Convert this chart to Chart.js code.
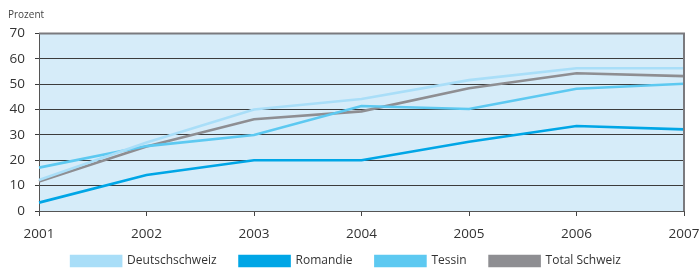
<!DOCTYPE html>
<html>
<head>
<meta charset="utf-8">
<script src="https://cdn.jsdelivr.net/npm/chart.js@4"></script>
<style>
  html, body { margin: 0; padding: 0; background: #fff; }
  #wrap { width: 699px; height: 268px; }
</style>
</head>
<body>
<div id="wrap"><canvas id="chart" width="699" height="268"></canvas></div>
<script>
const years = ['2001', '2002', '2003', '2004', '2005', '2006', '2007'];
const deutschschweiz = [12.2, 27, 40, 44.2, 51.6, 56.3, 56.3];
const romandie = [3.3, 14.2, 20, 20, 27.3, 33.5, 32.2];
const tessin = [17.1, 25.6, 30, 41.4, 40.2, 48.2, 50.2];
const totalSchweiz = [11.6, 25.4, 36.2, 39.3, 48.4, 54.3, 53.2];

const FONT = "'Open Sans', 'Noto Sans', sans-serif";

// light blue plot background + grey frame
const plotBg = {
    id: 'plotBg',
    afterLayout(chart) {
        // let the year labels run down into the legend band without being clipped
        chart.scales.x.bottom = chart.height;
    },
    beforeDraw(chart) {
        const { ctx, chartArea: a } = chart;
        ctx.save();
        ctx.fillStyle = '#d6ecf9';
        ctx.fillRect(a.left, a.top, a.right - a.left, a.bottom - a.top);
        ctx.restore();
    },
    afterDatasetsDraw(chart) {
        const { ctx, chartArea: a } = chart;
        ctx.save();
        ctx.strokeStyle = '#7a7a7e';
        ctx.lineWidth = 2;
        ctx.beginPath();
        ctx.moveTo(a.left, a.top);
        ctx.lineTo(a.right, a.top);
        ctx.lineTo(a.right, a.bottom);
        ctx.stroke();
        ctx.restore();
    }
};

const mkSet = (label, data, color) => ({
    label, data,
    borderColor: color,
    backgroundColor: color,
    borderWidth: 2.6,
    pointRadius: 0,
    tension: 0,
    fill: false
});

new Chart(document.getElementById('chart'), {
    type: 'line',
    data: {
        labels: years,
        datasets: [
            mkSet('Deutschschweiz', deutschschweiz, '#a9def8'),
            mkSet('Romandie', romandie, '#00a6e6'),
            mkSet('Tessin', tessin, '#5dc9f1'),
            mkSet('Total Schweiz', totalSchweiz, '#8e8e92')
        ]
    },
    options: {
        responsive: false,
        animation: false,
        layout: { padding: { left: 8, right: 15, top: 0, bottom: 0 } },
        plugins: {
            title: {
                display: true,
                text: 'Prozent',
                align: 'start',
                color: '#444',
                font: { family: FONT, size: 10, weight: 'normal' },
                padding: { top: 9, bottom: 12.5 }
            },
            legend: {
                position: 'bottom',
                maxHeight: 36,
                labels: {
                    boxWidth: 50,
                    boxHeight: 10,
                    padding: 23,
                    color: '#333',
                    font: { family: FONT, size: 12 }
                }
            },
            tooltip: { enabled: false }
        },
        scales: {
            x: {
                offset: false,
                grid: {
                    drawOnChartArea: false,
                    drawTicks: true,
                    tickLength: 5,
                    color: '#444'
                },
                border: { color: '#555', width: 1 },
                ticks: {
                    color: '#333',
                    padding: 10,
                    maxRotation: 0,
                    font: { family: FONT, size: 13.5 }
                },
                afterFit(scale) {
                    scale.height = 21;
                    scale.paddingLeft = 0;
                    scale.paddingRight = 0;
                }
            },
            y: {
                min: 0,
                max: 70,
                ticks: {
                    stepSize: 10,
                    color: '#333',
                    padding: 10,
                    font: { family: FONT, size: 13.5 }
                },
                grid: {
                    color: '#3c3c3c',
                    lineWidth: 1,
                    tickLength: 4
                },
                border: { color: '#555', width: 1 },
                afterFit(scale) { scale.width = 31; }
            }
        }
    },
    plugins: [plotBg]
});
</script>
</body>
</html>
